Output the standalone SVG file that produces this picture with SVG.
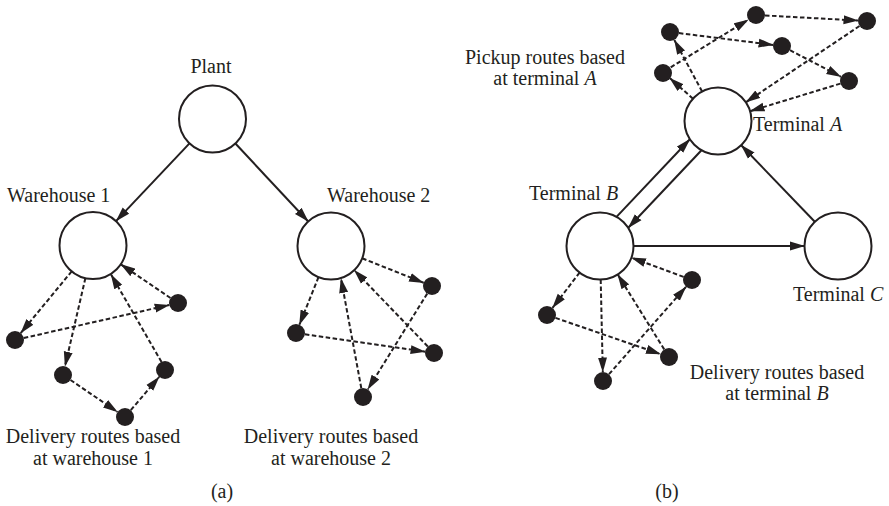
<svg xmlns="http://www.w3.org/2000/svg" width="889" height="506" viewBox="0 0 889 506">
<style>
text{font-family:"Liberation Serif","Times New Roman",serif;font-size:20px;fill:#231f20}
.hub{fill:#fff;stroke:#231f20;stroke-width:2}
.dot{fill:#231f20}
.s{stroke:#231f20;stroke-width:2;fill:none}
.d{stroke:#231f20;stroke-width:2;fill:none;stroke-dasharray:4.5 2.5}
.c{text-anchor:middle}
</style>
<defs>
<marker id="ah" markerUnits="userSpaceOnUse" markerWidth="15" markerHeight="10" viewBox="0 0 15 10" refX="14.5" refY="5" orient="auto">
<path d="M0,0.5 L15,5 L0,9.5 z" fill="#231f20"/>
</marker>
</defs>
<g id="connectors">
<line class="s" x1="189.5" y1="143.4" x2="116" y2="221.1" marker-end="url(#ah)"/>
<line class="s" x1="235.4" y1="143.5" x2="308.2" y2="221.5" marker-end="url(#ah)"/>
<line class="d" x1="71.7" y1="271.3" x2="20.7" y2="333.1" marker-end="url(#ah)"/>
<line class="d" x1="23.8" y1="338" x2="169.2" y2="305" marker-end="url(#ah)"/>
<line class="d" x1="170.5" y1="298" x2="120.8" y2="264.3" marker-end="url(#ah)"/>
<line class="d" x1="85.4" y1="278.1" x2="65" y2="366.2" marker-end="url(#ah)"/>
<line class="d" x1="70.5" y1="380" x2="117.5" y2="412" marker-end="url(#ah)"/>
<line class="d" x1="130.8" y1="410.1" x2="159.2" y2="376.9" marker-end="url(#ah)"/>
<line class="d" x1="161.5" y1="362" x2="111" y2="274.5" marker-end="url(#ah)"/>
<line class="d" x1="362.2" y1="258.3" x2="423.6" y2="282.7" marker-end="url(#ah)"/>
<line class="d" x1="427.2" y1="293.6" x2="367.8" y2="389.4" marker-end="url(#ah)"/>
<line class="d" x1="361.3" y1="388.2" x2="341" y2="278.5" marker-end="url(#ah)"/>
<line class="d" x1="318.5" y1="277.1" x2="299.4" y2="324.7" marker-end="url(#ah)"/>
<line class="d" x1="304.9" y1="334.3" x2="425.1" y2="351.7" marker-end="url(#ah)"/>
<line class="d" x1="427.8" y1="346.5" x2="354.2" y2="270.1" marker-end="url(#ah)"/>
<line class="s" x1="616.5" y1="216.9" x2="689.9" y2="139.2" marker-end="url(#ah)"/>
<line class="s" x1="701.5" y1="150.2" x2="628.2" y2="227.8" marker-end="url(#ah)"/>
<line class="s" x1="814.8" y1="221.8" x2="741.2" y2="145.2" marker-end="url(#ah)"/>
<line class="s" x1="633.5" y1="246" x2="804.5" y2="246" marker-end="url(#ah)"/>
<line class="d" x1="693" y1="98.7" x2="669.7" y2="78" marker-end="url(#ah)"/>
<line class="d" x1="670.7" y1="67.3" x2="748.3" y2="19.7" marker-end="url(#ah)"/>
<line class="d" x1="765" y1="15.5" x2="858" y2="20.5" marker-end="url(#ah)"/>
<line class="d" x1="859.5" y1="26" x2="745.8" y2="102.3" marker-end="url(#ah)"/>
<line class="d" x1="702.1" y1="91.5" x2="674.3" y2="39.9" marker-end="url(#ah)"/>
<line class="d" x1="678.9" y1="33.1" x2="773.1" y2="44.9" marker-end="url(#ah)"/>
<line class="d" x1="790" y1="50.2" x2="841" y2="76.8" marker-end="url(#ah)"/>
<line class="d" x1="840.4" y1="83.6" x2="750" y2="111.2" marker-end="url(#ah)"/>
<line class="d" x1="579.6" y1="272.6" x2="552.5" y2="307.9" marker-end="url(#ah)"/>
<line class="d" x1="555.5" y1="317.9" x2="660.5" y2="354.1" marker-end="url(#ah)"/>
<line class="d" x1="664.2" y1="349.4" x2="617.7" y2="274.5" marker-end="url(#ah)"/>
<line class="d" x1="600.7" y1="279.5" x2="602.8" y2="372" marker-end="url(#ah)"/>
<line class="d" x1="609" y1="374.2" x2="686" y2="286.8" marker-end="url(#ah)"/>
<line class="d" x1="683.6" y1="276.9" x2="631.4" y2="257.6" marker-end="url(#ah)"/>
</g>
<g id="plant"><circle class="hub" cx="212.5" cy="119" r="33.5"/><text class="c" x="211" y="73">Plant</text></g>
<g id="warehouse1"><circle class="hub" cx="93" cy="245.5" r="33.5"/><text x="7" y="202">Warehouse 1</text></g>
<g id="warehouse2"><circle class="hub" cx="331" cy="246" r="33.5"/><text x="327" y="202">Warehouse 2</text></g>
<g id="w1-dots"><circle class="dot" cx="15" cy="340" r="9"/><circle class="dot" cx="63" cy="375" r="9"/><circle class="dot" cx="125" cy="417" r="9"/><circle class="dot" cx="165" cy="370" r="9"/><circle class="dot" cx="178" cy="303" r="9"/></g>
<g id="w2-dots"><circle class="dot" cx="432" cy="286" r="9"/><circle class="dot" cx="296" cy="333" r="9"/><circle class="dot" cx="434" cy="353" r="9"/><circle class="dot" cx="363" cy="397" r="9"/></g>
<g id="label-w1"><text class="c" x="93" y="443">Delivery routes based</text><text class="c" x="93" y="465">at warehouse 1</text></g>
<g id="label-w2"><text class="c" x="331" y="443">Delivery routes based</text><text class="c" x="331" y="465">at warehouse 2</text></g>
<text class="c" x="222" y="498">(a)</text>
<g id="terminalA"><circle class="hub" cx="718" cy="121" r="33.5"/><text x="753" y="131">Terminal <tspan font-style="italic">A</tspan></text></g>
<g id="terminalB"><circle class="hub" cx="600" cy="246" r="33.5"/><text x="529" y="200">Terminal <tspan font-style="italic">B</tspan></text></g>
<g id="terminalC"><circle class="hub" cx="838" cy="246" r="33.5"/><text x="793" y="301">Terminal <tspan font-style="italic">C</tspan></text></g>
<g id="pickup-dots"><circle class="dot" cx="663" cy="73" r="9"/><circle class="dot" cx="756" cy="15" r="9"/><circle class="dot" cx="867" cy="21" r="9"/><circle class="dot" cx="670" cy="32" r="9"/><circle class="dot" cx="782" cy="46" r="9"/><circle class="dot" cx="849" cy="81" r="9"/></g>
<g id="delivery-dots"><circle class="dot" cx="547" cy="315" r="9"/><circle class="dot" cx="669" cy="357" r="9"/><circle class="dot" cx="603" cy="381" r="9"/><circle class="dot" cx="692" cy="280" r="9"/></g>
<g id="label-pickup"><text class="c" x="545" y="64">Pickup routes based</text><text class="c" x="545" y="85">at terminal <tspan font-style="italic">A</tspan></text></g>
<g id="label-deliveryB"><text class="c" x="777" y="379">Delivery routes based</text><text class="c" x="777" y="400">at terminal <tspan font-style="italic">B</tspan></text></g>
<text class="c" x="667" y="498">(b)</text>
</svg>
